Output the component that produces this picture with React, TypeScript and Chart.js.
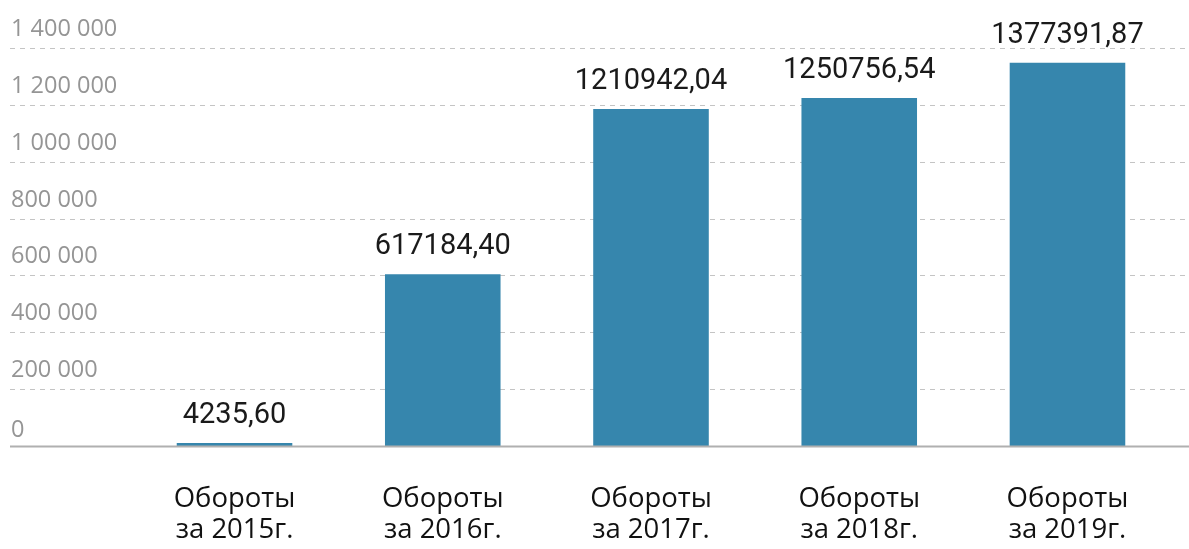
import React, { useEffect, useRef } from "react";
import { Chart, registerables } from "chart.js";

Chart.register(...registerables);

const categories: string[][] = [
  ["Обороты", "за 2015г."],
  ["Обороты", "за 2016г."],
  ["Обороты", "за 2017г."],
  ["Обороты", "за 2018г."],
  ["Обороты", "за 2019г."],
];
const turnover: number[] = [4235.6, 617184.4, 1210942.04, 1250756.54, 1377391.87];
const valueLabels: string[] = ["4235,60", "617184,40", "1210942,04", "1250756,54", "1377391,87"];
const gridTicks: number[] = [0, 200000, 400000, 600000, 800000, 1000000, 1200000, 1400000];
const gridTickLabels: string[] = ["0", "200 000", "400 000", "600 000", "800 000", "1 000 000", "1 200 000", "1 400 000"];

const BAR_COLOR = "#3686ad";

const gridPlugin = {
  id: "customGrid",
  beforeDatasetsDraw(chart: any) {
    const ctx = chart.ctx;
    const scale = chart.scales.grid;
    const w = chart.width;
    ctx.save();
    gridTicks.forEach((v, i) => {
      const y = Math.round(scale.getPixelForValue(v));
      if (v !== 0) {
        ctx.strokeStyle = "#c4c4c4";
        ctx.lineWidth = 1;
        ctx.setLineDash([5, 5]);
        ctx.beginPath();
        ctx.moveTo(10, y + 0.5);
        ctx.lineTo(w, y + 0.5);
        ctx.stroke();
      }
      ctx.setLineDash([]);
      ctx.fillStyle = "#959595";
      ctx.font = "23.5px 'Open Sans'";
      ctx.textAlign = "left";
      ctx.textBaseline = "alphabetic";
      ctx.fillText(gridTickLabels[i], 11, y - (v === 0 ? 9 : 12));
    });
    ctx.restore();
  },
  afterDatasetsDraw(chart: any) {
    const ctx = chart.ctx;
    const scale = chart.scales.grid;
    const w = chart.width;
    const y0 = scale.getPixelForValue(0);
    ctx.save();
    ctx.strokeStyle = "#b0b0b0";
    ctx.lineWidth = 2;
    ctx.beginPath();
    ctx.moveTo(10, y0 + 0.5);
    ctx.lineTo(w, y0 + 0.5);
    ctx.stroke();
    const meta = chart.getDatasetMeta(0);
    ctx.fillStyle = "#1a1a1a";
    ctx.font = "29px Roboto";
    ctx.textAlign = "center";
    ctx.textBaseline = "alphabetic";
    meta.data.forEach((bar: any, i: number) => {
      ctx.fillText(valueLabels[i], bar.x, bar.y - 20);
    });
    ctx.restore();
  },
};

export default function App() {
  const canvasRef = useRef<HTMLCanvasElement | null>(null);

  useEffect(() => {
    if (!canvasRef.current) return;
    const chart = new Chart(canvasRef.current, {
      type: "bar",
      data: {
        labels: categories,
        datasets: [
          {
            data: turnover,
            backgroundColor: BAR_COLOR,
            borderWidth: 0,
            barPercentage: 0.555,
            categoryPercentage: 1,
            minBarLength: 3,
            yAxisID: "y",
          },
        ],
      },
      options: {
        responsive: false,
        animation: false,
        layout: { padding: { left: 130.4, right: 17.4, top: 48, bottom: 0 } },
        plugins: { legend: { display: false }, tooltip: { enabled: false } },
        scales: {
          x: {
            grid: { display: false, drawTicks: false },
            border: { display: false },
            ticks: {
              color: "#111111",
              font: { family: "'Open Sans'", size: 27.5, lineHeight: 1.15 },
              padding: 37,
              maxRotation: 0,
              autoSkip: false,
            },
            afterFit(scale: any) {
              scale.height = 103;
            },
          },
          y: {
            display: false,
            min: 0,
            max: 1430000,
          },
          grid: {
            display: false,
            position: "left",
            min: 0,
            max: 1400000,
          },
        },
      },
      plugins: [gridPlugin],
    });
    return () => chart.destroy();
  }, []);

  return (
    <div style={{ position: "fixed", left: 0, top: 0, width: 1189, height: 549, background: "#fff" }}>
      <canvas ref={canvasRef} width={1189} height={549} />
    </div>
  );
}
